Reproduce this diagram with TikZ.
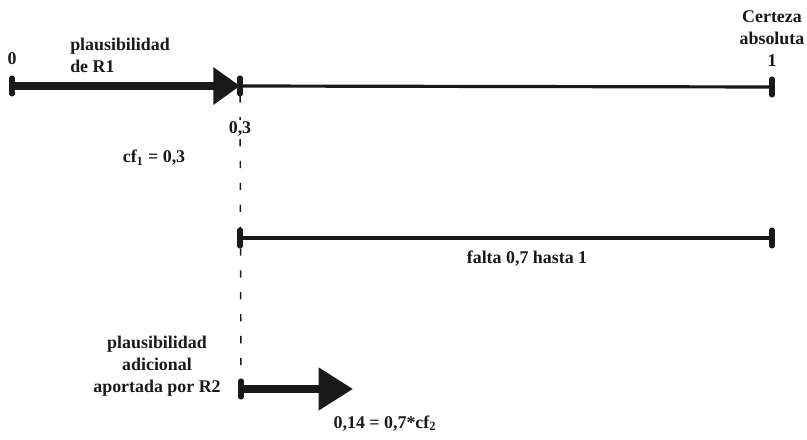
\documentclass[tikz,border=0pt]{standalone}
\usepackage{fontspec}
\setmainfont{Liberation Serif}
\usetikzlibrary{arrows.meta,positioning,calc}
\definecolor{ink}{gray}{0.10}
\tikzset{
  lbl/.style={font=\fontsize{13.5}{16.6}\selectfont\bfseries, align=center,
              inner sep=0pt, text=ink},
  scaleline/.style={line width=2.4pt, ink},
  plausarr/.style={line width=6pt, ink, -{Triangle[length=20pt,width=27pt]}},
  addarr/.style={line width=6pt, ink, -{Triangle[length=26pt,width=31pt]}},
  endtick/.style={line width=3.8pt, ink, line cap=round},
  guide/.style={line width=1.1pt, ink, dash pattern=on 5.5pt off 11pt}
}

\begin{document}
\begin{tikzpicture}[x=0.0265cm, y=-0.0265cm]
  \useasboundingbox (0,0) rectangle (807,440);
  % puntos de la escala
  \coordinate (z0)  at (12,86);
  \coordinate (c03) at (240,86);
  \coordinate (c1)  at (772,87);
  \coordinate (f0)  at (240,238);
  \coordinate (f1)  at (772,238);
  \coordinate (r2a) at (241,389);
  \coordinate (r2b) at (353,389);

  \draw[guide, shorten <=7pt, shorten >=7pt] (c03) -- (r2a);
  \draw[scaleline] (c03) -- (c1);
  \draw[plausarr] (z0) -- (c03);
  \draw[scaleline] (f0) -- (f1);
  \draw[addarr] (r2a) -- (r2b);
  \foreach \c in {z0,c03,c1,f0,f1,r2a}
    \draw[endtick] (\c) +(0,-8) -- +(0,8);

  \node[lbl, anchor=base] (lab0) at (12,65) {0};
  \node[lbl, anchor=south west, align=left] (labR1) at (70,73) {plausibilidad\\de R1};
  \node[lbl, anchor=south] (labcert) at (772,67) {Certeza\\absoluta\\1};
  \node[lbl, anchor=base, fill=white, inner sep=1.5pt] (lab03) at (240,134) {0,3};
  \node[lbl, anchor=base] (labcf1) at (154,163) {cf\textsubscript{1} = 0,3};
  \node[lbl, anchor=base] (labfalta) at (527,264) {falta 0,7 hasta 1};
  \node[lbl, anchor=south] (labR2) at (157,397)
    {plausibilidad\\adicional\\aportada por R2};
  \node[lbl, anchor=base] (labcf2) at (385,428) {0,14 = 0,7*cf\textsubscript{2}};
\end{tikzpicture}
\end{document}
